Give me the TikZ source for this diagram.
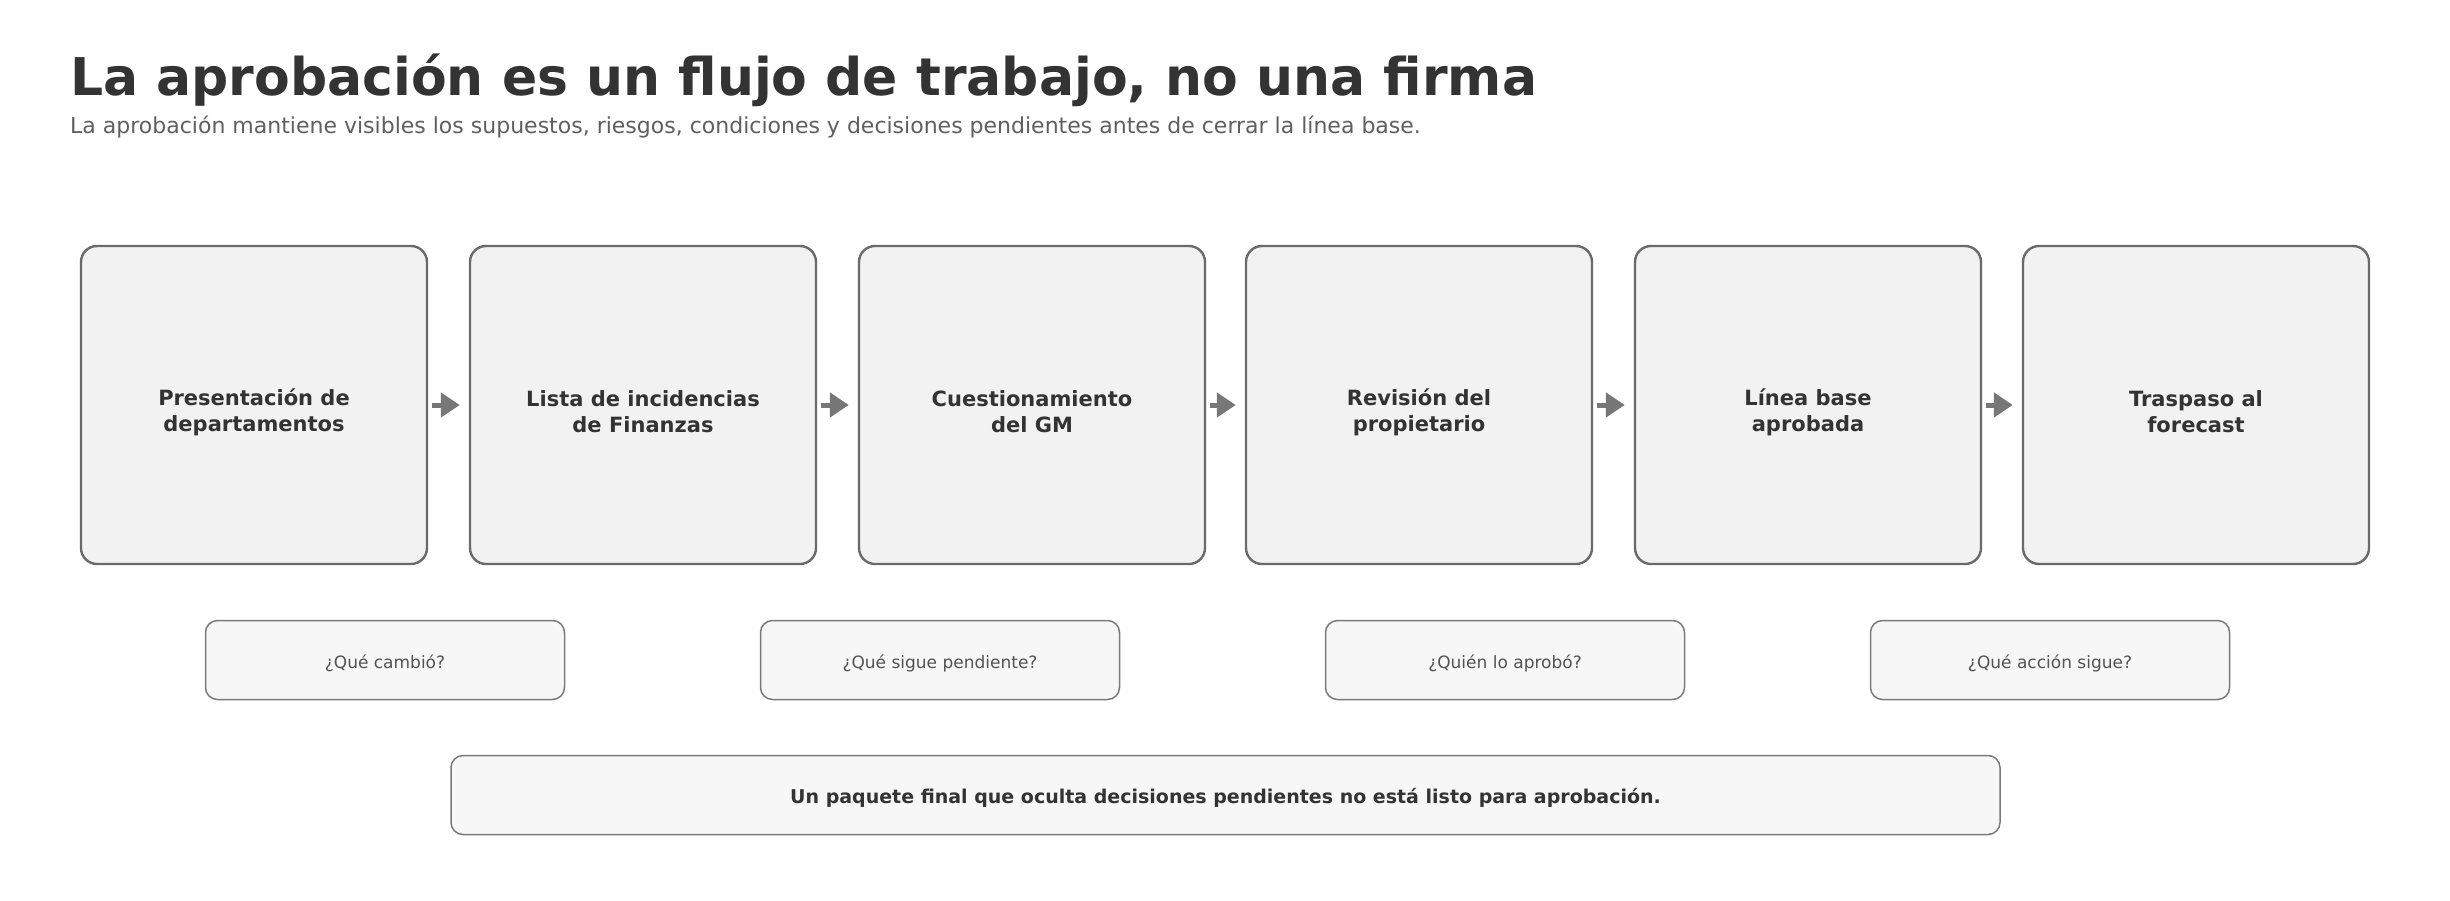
\documentclass[tikz,border=0pt]{standalone}
\usepackage{fontspec}
\setmainfont{DejaVu Sans}
\usetikzlibrary{arrows.meta}
\definecolor{txtdark}{HTML}{333333}
\definecolor{txtsub}{HTML}{5F5F5F}
\definecolor{boxfill}{HTML}{F2F2F2}
\definecolor{boxline}{HTML}{6A6A6A}
\definecolor{qfill}{HTML}{F7F7F7}
\definecolor{qline}{HTML}{7A7A7A}
\definecolor{arrowc}{HTML}{777777}
\tikzset{
  stagebox/.style={draw=boxline, fill=boxfill, line width=2.4pt, rounded corners=16pt,
    minimum width=346pt, minimum height=318pt, inner sep=0pt},
  stagetext/.style={align=center, inner sep=0pt, yshift=-7pt,
    text=txtdark, font=\bfseries\fontsize{21}{26}\selectfont},
  qbox/.style={draw=qline, fill=qfill, line width=1.5pt, rounded corners=12pt,
    minimum width=359pt, minimum height=79pt, inner sep=0pt},
  qtext/.style={inner sep=0pt, yshift=-3pt,
    text=txtdark!85!white, font=\fontsize{17}{21}\selectfont},
  notebox/.style={draw=qline, fill=qfill, line width=1.5pt, rounded corners=12pt,
    minimum width=1549pt, minimum height=79pt, inner sep=0pt},
  notetext/.style={inner sep=0pt, yshift=-3pt,
    text=txtdark, font=\bfseries\fontsize{19}{23}\selectfont},
  flowarrow/.style={draw=arrowc, line width=5pt, -{Triangle[length=19pt,width=24pt]},
    shorten <=4pt, shorten >=9pt},
}
\begin{document}
\begin{tikzpicture}[x=1pt, y=-1pt]
\useasboundingbox (0,0) rectangle (2450,900);
\node[anchor=base west, inner sep=0pt, text=txtdark, font=\bfseries\fontsize{52}{60}\selectfont] (title) at (70,95) {La aprobación es un flujo de trabajo, no una firma};
\node[anchor=base west, inner sep=0pt, text=txtsub, font=\fontsize{22}{26}\selectfont] (subtitle) at (70,133) {La aprobación mantiene visibles los supuestos, riesgos, condiciones y decisiones pendientes antes de cerrar la línea base.};

\node[stagebox, label={[stagetext]center:Presentación de\\departamentos}] (s1) at (254,405) {};
\node[stagebox, label={[stagetext]center:Lista de incidencias\\de Finanzas}] (s2) at (643,405) {};
\node[stagebox, label={[stagetext]center:Cuestionamiento\\del GM}] (s3) at (1032,405) {};
\node[stagebox, label={[stagetext]center:Revisión del\\propietario}] (s4) at (1419,405) {};
\node[stagebox, label={[stagetext]center:Línea base\\aprobada}] (s5) at (1808,405) {};
\node[stagebox, label={[stagetext]center:Traspaso al\\forecast}] (s6) at (2196,405) {};

\draw[flowarrow] (s1.east) -- (s2.west);
\draw[flowarrow] (s2.east) -- (s3.west);
\draw[flowarrow] (s3.east) -- (s4.west);
\draw[flowarrow] (s4.east) -- (s5.west);
\draw[flowarrow] (s5.east) -- (s6.west);

\node[qbox, label={[qtext]center:¿Qué cambió?}] (q1) at (385,660) {};
\node[qbox, label={[qtext]center:¿Qué sigue pendiente?}] (q2) at (940,660) {};
\node[qbox, label={[qtext]center:¿Quién lo aprobó?}] (q3) at (1505,660) {};
\node[qbox, label={[qtext]center:¿Qué acción sigue?}] (q4) at (2050,660) {};

\node[notebox, label={[notetext]center:Un paquete final que oculta decisiones pendientes no está listo para aprobación.}] (note) at (1225.5,795) {};
\end{tikzpicture}
\end{document}
